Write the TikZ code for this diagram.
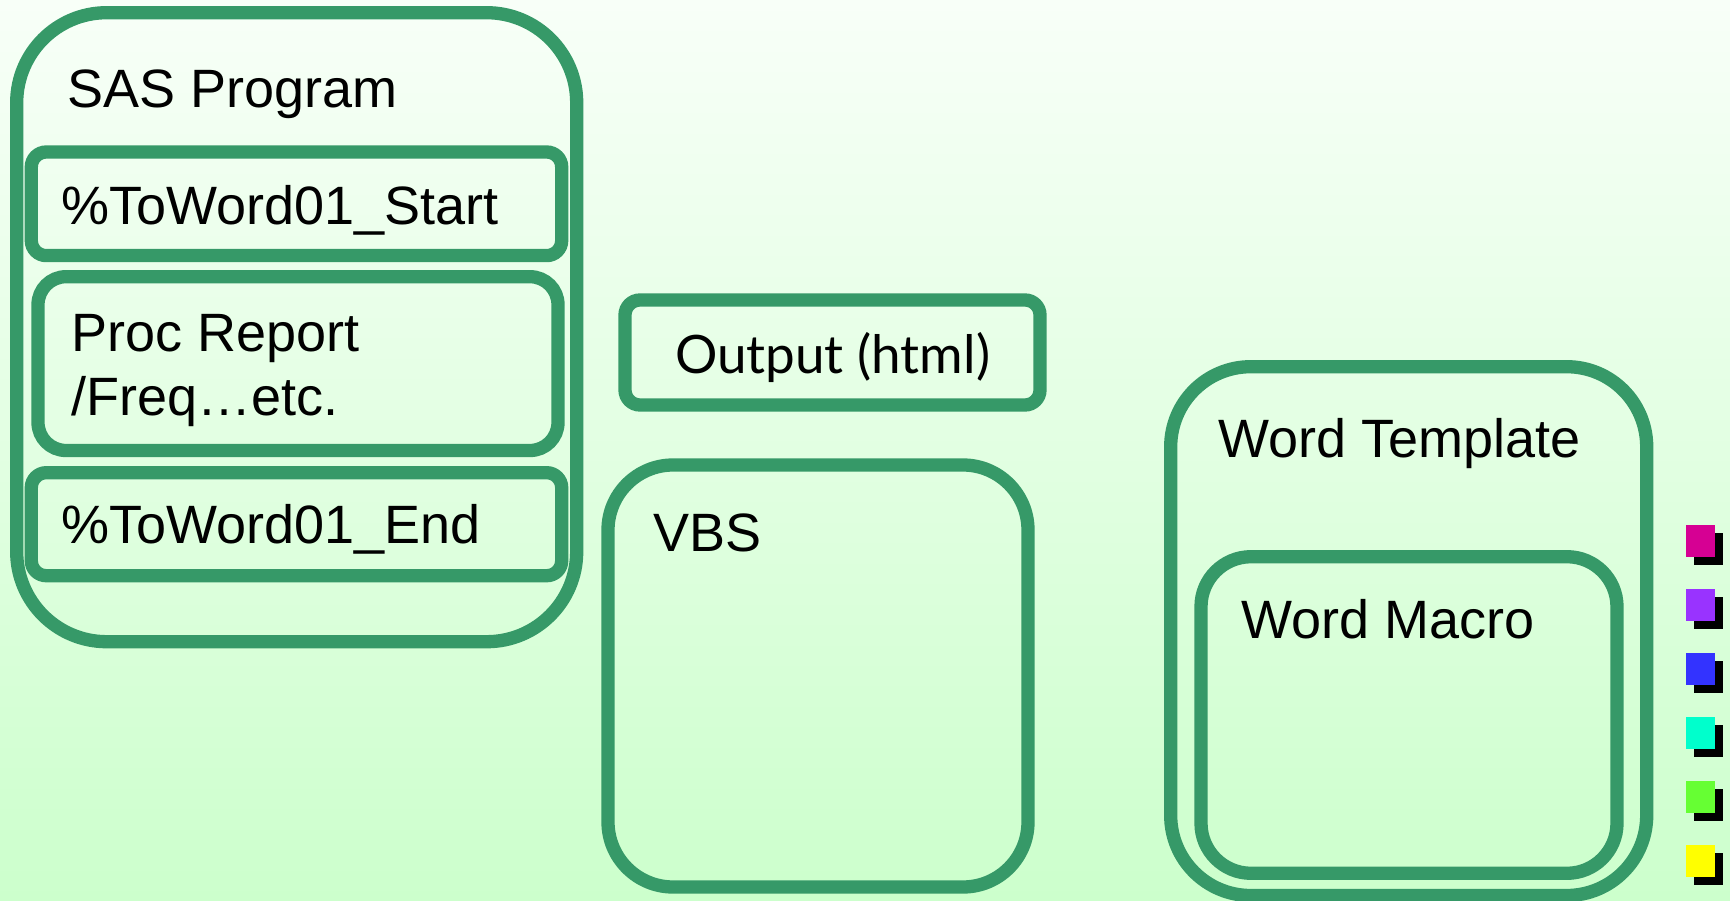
\documentclass[tikz,border=0pt]{standalone}
\usepackage{fontspec}
\setmainfont{Liberation Sans}
\newfontfamily\outfont{Lato}
\usepackage{tikz}
\usetikzlibrary{positioning}

\definecolor{framegreen}{RGB}{54,153,104}
\definecolor{bgtop}{RGB}{248,255,248}
\definecolor{bgbottom}{RGB}{204,255,204}
\definecolor{swmagenta}{RGB}{214,0,147}
\definecolor{swpurple}{RGB}{153,51,255}
\definecolor{swblue}{RGB}{51,51,255}
\definecolor{swcyan}{RGB}{0,255,204}
\definecolor{swgreen}{RGB}{102,255,51}
\definecolor{swyellow}{RGB}{255,255,0}

\tikzset{
  frame/.style={draw=framegreen, line width=13.3pt},
  caption/.style={anchor=base west, inner sep=0pt, align=left,
    font=\fontsize{54}{63.3}\selectfont},
}

\begin{document}
\begin{tikzpicture}[x=1pt,y=-1pt]

  \useasboundingbox (0,0) rectangle (1730,901);
  \shade[top color=bgtop, bottom color=bgbottom] (0,0) rectangle (1730,901);

  % SAS program and its three parts
  \draw[frame, rounded corners=90pt] (16.7,12.7) rectangle (576.7,641.7);
  \draw[frame, rounded corners=15pt] (31.3,152) rectangle (561.7,255.6);
  \draw[frame, rounded corners=28pt] (38,276.7) rectangle (558,450.5);
  \draw[frame, rounded corners=15pt] (31.3,472.7) rectangle (561.7,575.7);

  \node[caption] (sastitle) at (67.5,107.3) {SAS Program};
  \node[caption] (startmac) at (61,225) {\%ToWord01\_Start};
  \node[caption] (procstep) at (71,415) {Proc Report\\/Freq…etc.};
  \node[caption] (endmac) at (61,543.3) {\%ToWord01\_End};

  % output and vbs
  \draw[frame, rounded corners=15pt] (625,300) rectangle (1040,405);
  \node[anchor=base, inner sep=0pt, font=\outfont\fontsize{53}{60}\selectfont]
    (output) at (832.5,373.3) {Output (html)};

  \draw[frame, rounded corners=65pt] (608,465) rectangle (1028,887);
  \node[caption] (vbs) at (653,551.7) {VBS};

  % word template with the macro inside
  \draw[frame, rounded corners=80pt] (1170.7,366.7) rectangle (1646.7,895.5);
  \draw[frame, rounded corners=50pt] (1201,556.7) rectangle (1617,873.3);
  \node[caption] (template) at (1218.5,457.3) {Word Template};
  \node[caption] (macro) at (1241,638.3) {Word Macro};

  % colour swatches
  \foreach \col [count=\i from 0] in {swmagenta,swpurple,swblue,swcyan,swgreen,swyellow} {
    \fill[black] (1694,533+64*\i) rectangle +(29,32);
    \fill[\col] (1686,525+64*\i) rectangle +(29,32);
  }
\end{tikzpicture}
\end{document}
